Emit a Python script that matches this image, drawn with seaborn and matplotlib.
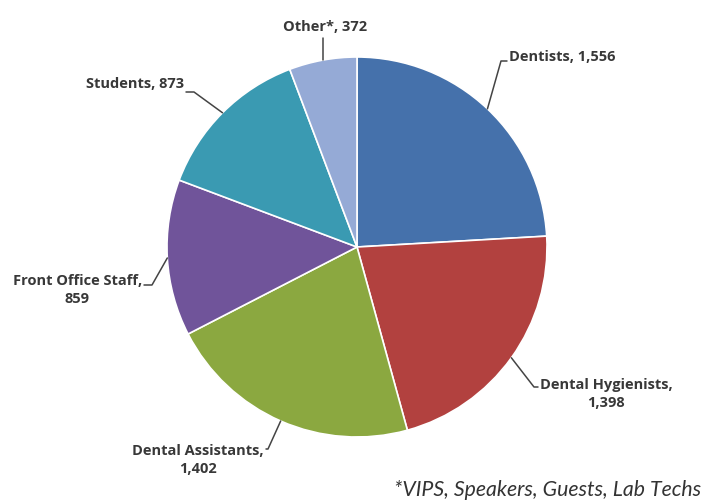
import numpy as np
import matplotlib
matplotlib.use("Agg")
from matplotlib import pyplot as plt
import seaborn as sns

# attendance by category
categories = ['Dentists', 'Dental Hygienists', 'Dental Assistants',
              'Front Office Staff', 'Students', 'Other*']
counts = [1556, 1398, 1402, 859, 873, 372]
labels = ['Dentists, 1,556', 'Dental Hygienists,\n1,398', 'Dental Assistants,\n1,402',
          'Front Office Staff,\n859', 'Students, 873', 'Other*, 372']
footnote = '*VIPS, Speakers, Guests, Lab Techs'

colors = sns.color_palette(['#4571AB', '#B2413F', '#8BA840', '#70549A', '#3A9AB2', '#95AAD6'])

sns.set_style('white')
plt.rcParams['font.family'] = ['Open Sans', 'DejaVu Sans']

W, H = 703, 504
fig = plt.figure(figsize=(W / 100, H / 100), dpi=100)
ax = fig.add_axes([0, 0, 1, 1])

cx, cy, R = 357, H - 247, 190
wedges, _ = ax.pie(counts, colors=colors, startangle=90, counterclock=False,
                   center=(cx, cy), radius=R, frame=True,
                   wedgeprops=dict(edgecolor='white', linewidth=1.2))
ax.set_xlim(0, W)
ax.set_ylim(0, H)
ax.set_aspect('equal')
ax.axis('off')

# label text position (x, y of text centre from top), alignment, knee of leader line
label_pos = [
    (509, 57, 'left', (501, 61)),
    (540, 394, 'left', (534, 387)),
    (264, 460, 'right', (268, 449)),
    (142, 290, 'right', (152, 285)),
    (184, 84, 'right', (194, 92)),
    (325, 27, 'center', None),
]

for w, lab, (tx, ty, ha, knee) in zip(wedges, labels, label_pos):
    mid = np.deg2rad((w.theta1 + w.theta2) / 2)
    ex, ey = cx + R * np.cos(mid), cy + R * np.sin(mid)
    if knee is None:
        ax.plot([ex, ex], [ey, H - ty - 11], color='#444444', lw=1.1)
    else:
        kx, ky = knee
        hook = tx + (-2 if ha == 'left' else 2)
        ax.plot([ex, kx, hook], [ey, H - ky, H - ky], color='#444444', lw=1.1)
    ax.text(tx, H - ty, lab, ha=ha, va='center', multialignment='center',
            fontsize=10.5, fontweight='bold', color='#383838', linespacing=1.45)

ax.text(701, H - 490, footnote, ha='right', va='center', fontsize=15.3,
        fontstyle='italic', color='#333333', family=['Lato', 'DejaVu Sans'])

fig.savefig('out.png', dpi=100)
